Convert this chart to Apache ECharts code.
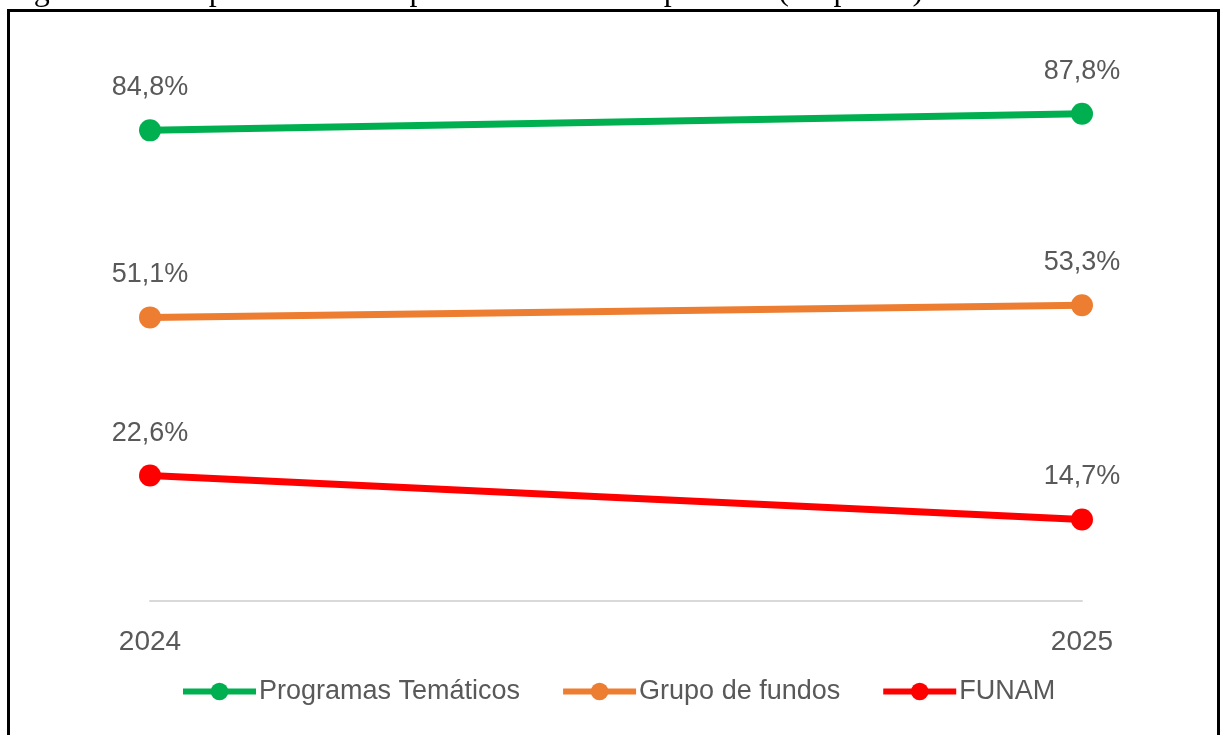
<!DOCTYPE html>
<html>
<head>
<meta charset="utf-8">
<script src="https://cdn.jsdelivr.net/npm/echarts@6/dist/echarts.min.js"></script>
<style>
html,body{margin:0;padding:0;background:#fff;}
#chart{width:1221px;height:735px;}
</style>
</head>
<body>
<div id="chart"></div>
<script>
var categories = ['2024', '2025'];
var programasTematicos = [84.8, 87.8];
var grupoDeFundos = [51.1, 53.3];
var funam = [22.6, 14.7];
var seriesNames = ['Programas Temáticos', 'Grupo de fundos', 'FUNAM'];
var seriesColors = ['#00B050', '#ED7D31', '#FF0000'];
var seriesData = [programasTematicos, grupoDeFundos, funam];

var chart = echarts.init(document.getElementById('chart'));
function fmt(p){ return p.value.toFixed(1).replace('.', ',') + '%'; }
var FONT = 'Liberation Sans, Arial, sans-serif';

var series = seriesData.map(function(d, i){
  return {
    name: seriesNames[i],
    type: 'line',
    data: d,
    symbol: 'circle',
    symbolSize: 22,
    lineStyle: {width: 7, color: seriesColors[i]},
    itemStyle: {color: seriesColors[i]},
    label: {
      show: true, position: 'top', distance: 18,
      formatter: fmt,
      fontFamily: FONT,
      fontSize: 27, color: '#595959'
    },
    emphasis: {disabled: true}
  };
});

chart.setOption({
  animation: false,
  grid: {left: 150, right: 139, top: 46, bottom: 134, containLabel: false},
  xAxis: {
    type: 'category', data: categories, boundaryGap: false,
    axisLine: {lineStyle: {color: '#D9D9D9', width: 2}},
    axisTick: {show: false},
    axisLabel: {fontFamily: FONT, fontSize: 28, color: '#595959', margin: 27}
  },
  yAxis: {type: 'value', min: 0, max: 100, show: false, splitLine: {show: false}},
  legend: {
    bottom: 25, left: 175,
    itemWidth: 73, itemHeight: 22, itemGap: 40,
    lineStyle: {width: 6},
    textStyle: {fontFamily: FONT, fontSize: 27, color: '#595959', padding: [0,0,0,-2]},
    data: seriesNames
  },
  graphic: [
    {type: 'rect', shape: {x: 8.5, y: 10.5, width: 1210, height: 740}, style: {fill: 'none', stroke: '#000', lineWidth: 3}, z: 100},
    {type: 'text', x: 7, y: -24, style: {text: 'Figura 6 – Comparativo da Despesa Autorizada empenhada (Emp./DA)', font: '32px "Liberation Serif", "Times New Roman", serif', fill: '#000'}, z: 100}
  ],
  series: series
});
</script>
</body>
</html>
